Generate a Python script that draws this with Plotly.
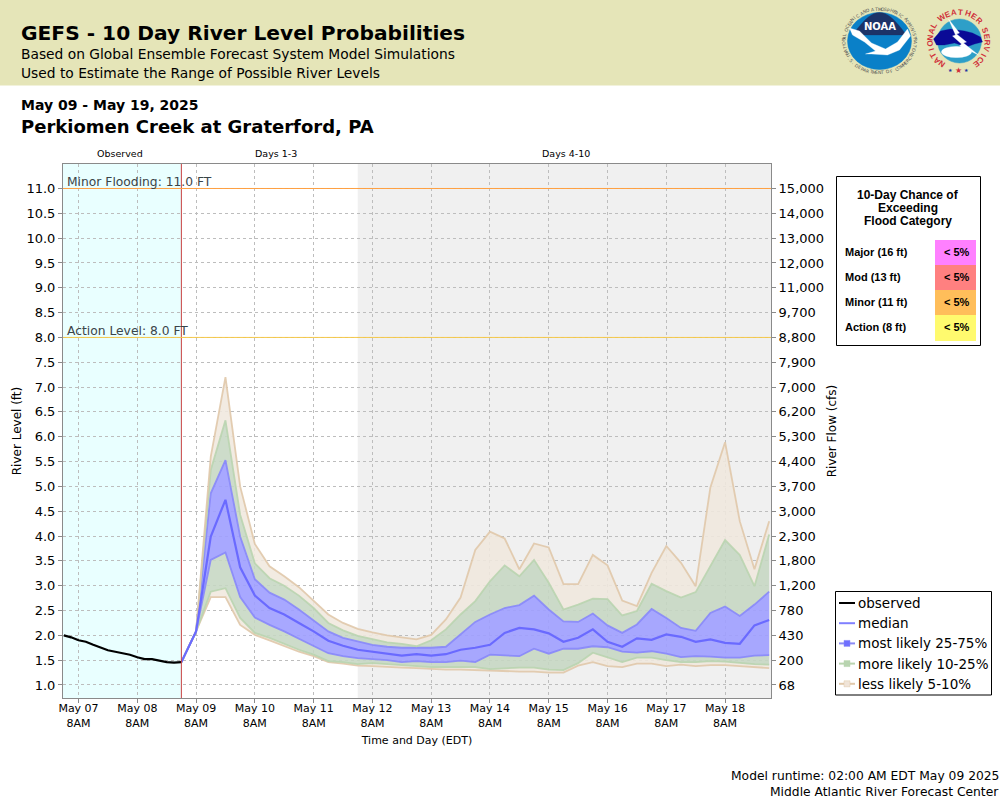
import math
import pandas as pd
import plotly.graph_objects as go

# ---------- data ----------
level_ticks = [1.0,1.5,2.0,2.5,3.0,3.5,4.0,4.5,5.0,5.5,6.0,6.5,7.0,7.5,8.0,8.5,9.0,9.5,10.0,10.5,11.0]
level_labels = [f"{v:.1f}" for v in level_ticks]
flow_labels = ["68","200","430","780","1,200","1,800","2,300","3,000","3,700","4,400","5,300","6,200","7,000","7,900","8,800","9,700","11,000","12,000","13,000","14,000","15,000"]
day_ticks = ["2025-05-%02d 08:00" % d for d in range(7, 19)]
day_labels = ["May %02d<br>8AM" % d for d in range(7, 19)]

observed = [2.0,1.96,1.90,1.87,1.81,1.76,1.70,1.67,1.64,1.61,1.56,1.52,1.52,1.49,1.46,1.45,1.46]
median = [1.46,2.08,3.99,4.73,3.37,2.80,2.55,2.42,2.25,2.08,1.89,1.79,1.71,1.67,1.63,1.59,1.62,1.59,1.62,1.71,1.75,1.81,2.05,2.15,2.12,2.04,1.87,1.95,2.12,1.87,1.77,1.94,1.91,2.02,1.97,1.87,1.92,1.85,1.83,2.20,2.31]
p95 = [1.46,2.08,5.60,7.20,5.00,3.84,3.39,3.19,2.97,2.70,2.42,2.25,2.13,2.06,2.00,1.96,1.92,2.01,2.32,2.76,3.72,4.09,3.95,3.33,3.85,3.77,3.03,3.03,3.62,3.41,2.70,2.59,3.26,3.80,3.46,2.99,4.98,5.89,4.30,3.33,4.30]
p90 = [1.46,2.08,5.33,6.33,4.43,3.45,3.15,3.00,2.80,2.55,2.25,2.10,1.99,1.92,1.86,1.83,1.78,1.90,2.12,2.42,2.69,3.09,3.41,3.19,3.52,3.06,2.52,2.62,2.74,2.73,2.40,2.49,3.04,2.89,2.76,2.87,3.40,3.92,3.62,2.99,4.03]
p75 = [1.46,2.08,4.86,5.53,3.99,3.13,2.86,2.72,2.52,2.30,2.08,1.95,1.88,1.81,1.77,1.75,1.75,1.75,1.77,2.02,2.27,2.42,2.55,2.61,2.80,2.52,2.28,2.27,2.44,2.20,2.05,2.22,2.53,2.35,2.15,2.09,2.45,2.58,2.39,2.62,2.88]
p25 = [1.46,2.08,3.52,3.67,2.77,2.36,2.21,2.08,1.93,1.78,1.64,1.58,1.54,1.52,1.50,1.46,1.48,1.46,1.46,1.49,1.46,1.61,1.59,1.58,1.73,1.63,1.73,1.73,1.78,1.76,1.67,1.65,1.68,1.63,1.56,1.58,1.57,1.55,1.55,1.59,1.60]
p10 = [1.46,2.08,2.88,2.95,2.35,2.05,1.95,1.83,1.71,1.61,1.48,1.46,1.42,1.44,1.42,1.39,1.38,1.36,1.36,1.36,1.36,1.32,1.34,1.35,1.35,1.31,1.30,1.44,1.65,1.55,1.46,1.55,1.55,1.50,1.46,1.46,1.48,1.47,1.44,1.42,1.41]
p5 = [1.46,2.08,2.77,2.77,2.21,2.01,1.90,1.78,1.67,1.58,1.46,1.43,1.39,1.38,1.36,1.35,1.34,1.32,1.31,1.31,1.30,1.29,1.27,1.27,1.27,1.25,1.25,1.39,1.46,1.38,1.36,1.43,1.43,1.38,1.41,1.38,1.40,1.40,1.38,1.36,1.34]

obs_times = pd.date_range("2025-05-07 02:00", periods=len(observed), freq="3h")
fc_times = pd.date_range("2025-05-09 02:00", periods=len(median), freq="6h")
flood_rows = ["Major (16 ft)", "Mod (13 ft)", "Minor (11 ft)", "Action (8 ft)"]
flood_chance = ["< 5%", "< 5%", "< 5%", "< 5%"]
flood_colors = ["#FF80FF", "#FF8080", "#FFBE5A", "#FFFA6E"]

# ---------- styles ----------
TAN_FILL, TAN_LINE = "rgba(240,232,222,0.87)", "rgba(224,200,170,0.9)"
GRN_FILL, GRN_LINE = "rgba(198,215,194,0.87)", "rgba(185,212,175,0.9)"
BLU_FILL, BLU_LINE = "rgba(158,158,255,0.9)", "rgba(135,135,250,0.9)"
MED = "#6A6AFF"
DEJA = "DejaVu Sans"
LIB = "Liberation Sans"
L, R, T, B = 63, 771, 164, 698
def px(x): return (x - L) / (R - L)
def py(y): return (B - y) / (B - T)

fig = go.Figure()
bands = [(p5, TAN_LINE, None, None), (p10, GRN_LINE, "tonexty", TAN_FILL), (p25, BLU_LINE, "tonexty", GRN_FILL),
         (p75, BLU_LINE, "tonexty", BLU_FILL), (p90, GRN_LINE, "tonexty", GRN_FILL), (p95, TAN_LINE, "tonexty", TAN_FILL)]
for vals, lc, fill, fc in bands:
    fig.add_trace(go.Scatter(x=fc_times, y=vals, mode="lines", line=dict(color=lc, width=1.8),
                             fill=fill, fillcolor=fc, showlegend=False, hoverinfo="skip"))
fig.add_trace(go.Scatter(x=fc_times, y=median, mode="lines", line=dict(color=MED, width=2.2), name="median", showlegend=False))
fig.add_trace(go.Scatter(x=obs_times, y=observed, mode="lines", line=dict(color="black", width=2.2), name="observed", showlegend=False))
fig.add_trace(go.Scatter(x=[fc_times[0]], y=[level_ticks[0]], yaxis="y2", mode="markers", marker=dict(opacity=0), showlegend=False, hoverinfo="skip"))

shapes, ann = [], []
def text(x, y, s, size=12, font=DEJA, color="#000", anchor="left", bold=False, angle=0):
    ann.append(dict(xref="paper", yref="paper", x=px(x), y=py(y), text=f"<b>{s}</b>" if bold else s, showarrow=False,
                    xanchor=anchor, yanchor="middle", align=anchor, textangle=angle,
                    font=dict(family=font, size=size, color=color), borderpad=0, borderwidth=0))
def rect(x0, y0, x1, y1, fill=None, line=None, w=1):
    shapes.append(dict(type="rect", xref="paper", yref="paper", x0=px(x0), x1=px(x1), y0=py(y0), y1=py(y1), layer="above",
                       fillcolor=fill or "rgba(0,0,0,0)", line=dict(color=line or "rgba(0,0,0,0)", width=w if line else 0)))
def seg(x0, y0, x1, y1, c, w=1.5):
    shapes.append(dict(type="line", xref="paper", yref="paper", x0=px(x0), x1=px(x1), y0=py(y0), y1=py(y1), layer="above", line=dict(color=c, width=w)))
def ell(cx, cy, rx, ry, fill, line=None):
    shapes.append(dict(type="circle", xref="paper", yref="paper", x0=px(cx-rx), x1=px(cx+rx), y0=py(cy+ry), y1=py(cy-ry), layer="above",
                       fillcolor=fill, line=dict(color=line or fill, width=0.5)))
def poly(pts, fill):
    d = "M " + " L ".join(f"{px(a):.5f},{py(b):.5f}" for a, b in pts) + " Z"
    shapes.append(dict(type="path", xref="paper", yref="paper", path=d, layer="above", fillcolor=fill, line=dict(color=fill, width=0.3)))

X0, X1 = "2025-05-07 01:40", "2025-05-19 02:45"
# plot regions
shapes.append(dict(type="rect", xref="x", yref="paper", x0=X0, x1=fc_times[0], y0=0, y1=1, layer="below", fillcolor="#E9FFFF", line=dict(width=0)))
shapes.append(dict(type="rect", xref="x", yref="paper", x0=fc_times[12], x1=X1, y0=0, y1=1, layer="below", fillcolor="#F0F0F0", line=dict(width=0)))
shapes.append(dict(type="line", xref="x", yref="paper", x0=fc_times[0], x1=fc_times[0], y0=0, y1=1, layer="above", line=dict(color="#C84040", width=1)))
shapes.append(dict(type="line", xref="paper", yref="y", x0=0, x1=1, y0=11, y1=11, layer="above", line=dict(color="#FFA040", width=1)))
shapes.append(dict(type="line", xref="paper", yref="y", x0=0, x1=1, y0=8, y1=8, layer="above", line=dict(color="#F5C84A", width=1)))

# header
rect(0, 0, 1000, 85.5, "#E5E5B8")
text(21, 33, "GEFS - 10 Day River Level Probabilities", 20.2, bold=True)
text(21, 54, "Based on Global Ensemble Forecast System Model Simulations", 13.8)
text(21, 73, "Used to Estimate the Range of Possible River Levels", 13.8)
text(21, 105, "May 09 - May 19, 2025", 14, bold=True)
text(21, 126, "Perkiomen Creek at Graterford, PA", 18, bold=True)
text(120, 153.5, "Observed", 9.5, anchor="center")
text(276, 153.5, "Days 1-3", 9.5, anchor="center")
text(566, 153.5, "Days 4-10", 9.5, anchor="center")
text(67, 181.5, "Minor Flooding: 11.0 FT", 12.3, color="#3A4448")
text(67, 331, "Action Level: 8.0 FT", 12.3, color="#3A4448")
text(999, 775.5, "Model runtime: 02:00 AM EDT May 09 2025", 12.3, anchor="right")
text(999, 792, "Middle Atlantic River Forecast Center", 12.3, anchor="right")

# flood box
rect(836.5, 176.5, 980.5, 345.5, "white", "black", 1)
for i, s in enumerate(["10-Day Chance of", "Exceeding", "Flood Category"]):
    text(908, 195 + 13 * i, s, 12, LIB, anchor="center", bold=True)
for i, (lab, ch, col) in enumerate(zip(flood_rows, flood_chance, flood_colors)):
    y0 = 240 + 25 * i
    rect(935, y0, 976, y0 + (26 if i == 3 else 25), col)
    text(845, y0 + 12, lab, 11, LIB, bold=True)
    text(957, y0 + 12, ch, 11, LIB, anchor="center", bold=True)

# legend
rect(835.5, 591.5, 991.5, 695, "white", "black", 1)
leg = [("observed", "black", None), ("median", "#8080FF", None), ("most likely 25-75%", "#8A8AF5", "#7070FF"),
       ("more likely 10-25%", "#B9D4AF", "#B8D4B0"), ("less likely 5-10%", "#E0C8AA", "#F0E4D8")]
for i, (s, lc, mc) in enumerate(leg):
    y = 603 + 20.2 * i
    seg(839, y, 855, y, lc, 2)
    if mc:
        rect(844, y - 3, 850, y + 3, mc, lc, 0.5)
    text(857.5, y, s, 13.5)

# NOAA logo
nx, ny = 879.5, 41.0
ell(nx, ny, 32, 28.5, "#0A80C8")
poly([(nx - 27 + 54 * t / 20, ny - 6 - 22.5 * math.sin(t / 20 * math.pi)) for t in range(21)], "#1C3368")
poly([(nx-30,ny-13),(nx-20,ny-10),(nx-8,ny+2),(nx+6,ny+8),(nx+18,ny+1),(nx+28,ny-12),(nx+31,ny-5),(nx+20,ny+9),(nx+8,ny+14),(nx-8,ny+13),(nx-14,ny+13),(nx-4,ny+10),(nx-15,ny+1),(nx-27,ny-6)], "white")
text(nx, ny-15, "NOAA", 10, bold=True, color="white", anchor="center")
def ring(s, cx, cy, rx, ry, a0, a1, size, color, bold=False, font=DEJA):
    for k, ch in enumerate(s):
        a = a0 + (a1 - a0) * (k + 0.5) / len(s)
        x, y = cx + rx * math.sin(math.radians(a)), cy - ry * math.cos(math.radians(a))
        rot = a if a1 > a0 else a + 180
        text(x, y, ch, size, font, color, "center", bold, rot)
ring("NATIONAL OCEANIC AND ATMOSPHERIC ADMINISTRATION", nx, ny, 35.5, 32, -115, 115, 4.5, "#555555")
ring("U.S. DEPARTMENT OF COMMERCE", nx, ny, 35.5, 32, 245, 115, 4.5, "#555555")

# NWS logo
wx, wy = 958.5, 41.0
ell(wx+1, wy, 22, 22, "#2E9FC8")
poly([(wx-25,wy-2),(wx-18,wy-10),(wx-8,wy-12),(wx+6,wy-10),(wx+14,wy-8),(wx+22,wy-4),(wx+24,wy+1),(wx+16,wy+3),(wx+8,wy+6),(wx-4,wy+2),(wx-14,wy+4),(wx-22,wy+4)], "#0A0A96")
ell(wx-2, wy+11, 15, 5.5, "white")
poly([(wx-10,wy-22),(wx+1,wy-8),(wx-2,wy-7),(wx+8,wy+1),(wx+5,wy+2),(wx+20,wy+14),(wx+1,wy+5),(wx+3,wy+3),(wx-6,wy-5),(wx-3,wy-6)], "white")
ring("NATIONAL", wx, wy, 28.5, 28.5, -150, -52, 8, "#D0303A", True, LIB)
ring("WEATHER", wx, wy, 28.5, 28.5, -42, 52, 8, "#D0303A", True, LIB)
ring("SERVICE", wx, wy, 28.5, 28.5, 62, 150, 8, "#D0303A", True, LIB)
for dx, c, sz in [(-8, "#2030A0", 5), (0, "#D0303A", 8), (8, "#2030A0", 5)]:
    text(wx + dx, wy + 29, "★", sz, "DejaVu Sans", c, "center")

axis_common = dict(showline=True, linecolor="#8A8A8A", linewidth=1, ticks="outside", ticklen=4, tickcolor="#8A8A8A", tickwidth=1,
                   automargin=False, tickfont=dict(family=DEJA, size=13, color="#000"))
GRID = dict(showgrid=True, gridcolor="#BDBDBD", griddash="3px,3px", gridwidth=1)
fig.update_layout(
    width=1000, height=800, autosize=False, showlegend=False, paper_bgcolor="white", plot_bgcolor="white",
    margin=dict(l=L, r=1000 - R, t=T, b=800 - B, pad=0),
    shapes=shapes, annotations=ann,
    xaxis=dict(type="date", range=[X0, X1], tickmode="array", tickvals=day_ticks, ticktext=day_labels, automargin=False,
               mirror=True, showline=True, linecolor="#8A8A8A", ticks="outside", ticklen=4, tickcolor="#8A8A8A", tickangle=0,
               ticklabelstandoff=-4, tickfont=dict(family=DEJA, size=11, color="#000"),
               title=dict(text="Time and Day (EDT)", font=dict(family=DEJA, size=11, color="#000"), standoff=7), **GRID),
    yaxis=dict(range=[0.738, 11.493], tickmode="array", tickvals=level_ticks, ticktext=level_labels, zeroline=False,
               title=dict(text="River Level (ft)", font=dict(family=DEJA, size=12, color="#000"), standoff=2), **GRID, **axis_common),
    yaxis2=dict(range=[0.738, 11.493], overlaying="y", side="right", tickmode="array", tickvals=level_ticks, ticktext=flow_labels,
                showgrid=False, zeroline=False,
                title=dict(text="River Flow (cfs)", font=dict(family=DEJA, size=12, color="#000"), standoff=4), **axis_common),
)
fig.write_html("out.html", config={"displayModeBar": False}, post_script="document.body.style.margin='0';")
